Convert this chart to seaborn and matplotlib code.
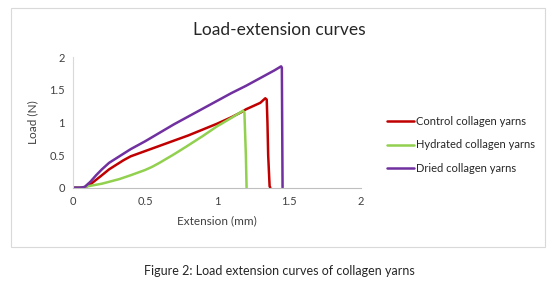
import pandas as pd
import seaborn as sns
import matplotlib.pyplot as plt
from matplotlib.patches import Rectangle

# values
control_x = [0, 0.08, 0.12, 0.16, 0.2, 0.25, 0.3, 0.35, 0.4, 0.5, 0.6, 0.7, 0.8, 0.9, 1.0, 1.1, 1.18, 1.2, 1.25, 1.3, 1.335, 1.345, 1.35, 1.355, 1.365, 1.37]
control_y = [0, 0, 0.05, 0.12, 0.19, 0.28, 0.35, 0.42, 0.48, 0.56, 0.64, 0.72, 0.8, 0.89, 0.98, 1.08, 1.17, 1.2, 1.25, 1.3, 1.37, 1.35, 1.0, 0.5, 0.02, 0.0]

hydrated_x = [0, 0.06, 0.1, 0.2, 0.32, 0.4, 0.5, 0.55, 0.6, 0.7, 0.78, 0.9, 1.0, 1.1, 1.18, 1.19, 1.2, 1.205]
hydrated_y = [0, 0, 0.02, 0.06, 0.13, 0.19, 0.27, 0.32, 0.38, 0.51, 0.62, 0.79, 0.94, 1.07, 1.18, 1.15, 0.5, 0.0]

dried_x = [0, 0.05, 0.08, 0.12, 0.16, 0.2, 0.25, 0.3, 0.35, 0.4, 0.5, 0.6, 0.7, 0.8, 0.9, 1.0, 1.1, 1.2, 1.3, 1.4, 1.445, 1.45, 1.455]
dried_y = [0, 0, 0.01, 0.09, 0.19, 0.28, 0.38, 0.45, 0.52, 0.59, 0.71, 0.84, 0.97, 1.09, 1.21, 1.33, 1.45, 1.56, 1.68, 1.8, 1.86, 1.84, 0.0]

names = ['Control collagen yarns', 'Hydrated collagen yarns', 'Dried collagen yarns']
colors = ['#C00000', '#92D050', '#7030A0']

frames = []
for name, xs, ys in zip(names, [control_x, hydrated_x, dried_x], [control_y, hydrated_y, dried_y]):
    frames.append(pd.DataFrame({'Extension': xs, 'Load': ys, 'Series': name}))
df = pd.concat(frames, ignore_index=True)

sns.set_style('white')
plt.rcParams['font.family'] = ['Lato', 'DejaVu Sans']

fig = plt.figure(figsize=(5.58, 2.86), dpi=100)
fig.patches.append(Rectangle((0.02, 0.136), 0.957, 0.836, transform=fig.transFigure,
                             fill=False, edgecolor='#D9D9D9', linewidth=0.8))
ax = fig.add_axes([0.131, 0.344, 0.516, 0.456])

sns.lineplot(data=df, x='Extension', y='Load', hue='Series', palette=colors,
             sort=False, estimator=None, units='Series', linewidth=1.8, ax=ax)

ax.set_xlim(0, 2)
ax.set_ylim(0, 2)
ax.set_xticks([0, 0.5, 1, 1.5, 2])
ax.set_xticklabels(['0', '0.5', '1', '1.5', '2'])
ax.set_yticks([0, 0.5, 1, 1.5, 2])
ax.set_yticklabels(['0', '0.5', '1', '1.5', '2'])
ax.tick_params(length=0, labelsize=8, colors='#404040', pad=6)
for side in ['top', 'right']:
    ax.spines[side].set_visible(False)
ax.spines['left'].set_color('#D9D9D9')
ax.spines['bottom'].set_color('#BFBFBF')
ax.set_xlabel('Extension (mm)', fontsize=8.5, color='#404040', labelpad=6)
ax.set_ylabel('Load (N)', fontsize=8.5, color='#404040', labelpad=8)

fig.text(0.5, 0.895, 'Load-extension curves', ha='center', va='center', fontsize=12.5, color='#262626')

ax.legend(loc='center left', bbox_to_anchor=(1.055, 0.327), frameon=False, fontsize=8,
          handlelength=2.4, handletextpad=0.2, labelspacing=1.1, title=None)

fig.text(0.5, 0.052, 'Figure 2: Load extension curves of collagen yarns', ha='center', va='center',
         fontsize=9, color='#262626')

fig.savefig('out.png', dpi=100)
